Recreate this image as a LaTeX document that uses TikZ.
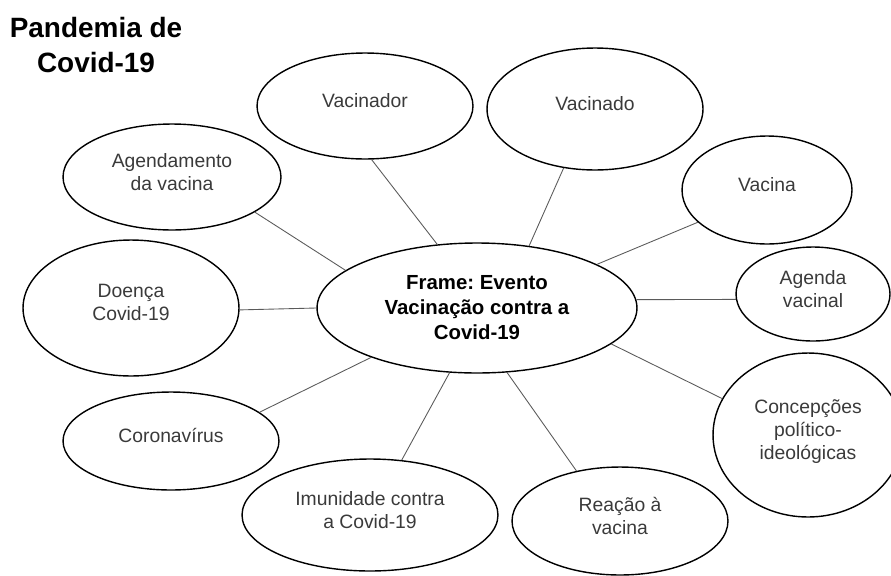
\documentclass[tikz,border=0pt]{standalone}
\usepackage{fontspec}
\setmainfont{Liberation Sans}
\usetikzlibrary{shapes.geometric}
\definecolor{textgray}{HTML}{3A3A3A}
\definecolor{spokegray}{HTML}{5A5A5A}
\frenchspacing
\begin{document}
\begin{tikzpicture}[x=0.02cm, y=-0.02cm,
    topic/.style={draw, ellipse, line width=0.8pt, inner sep=0pt, align=center,
        text=textgray, font=\fontsize{11}{13.1}\selectfont, text depth=6pt},
    eventbox/.style={draw, ellipse, line width=0.8pt, inner sep=0pt, align=center,
        font=\bfseries\fontsize{11.6}{14.2}\selectfont},
    spoke/.style={draw=spokegray, line width=0.5pt}]
    \useasboundingbox (0, 0) rectangle (891, 575);

    \node[font=\bfseries\fontsize{15.9}{19.4}\selectfont, align=center] (title) at (96, 45) {Pandemia de\\Covid-19};

    \node[eventbox, minimum width=6.4cm, minimum height=2.6cm] (E) at (477, 308) {Frame: Evento\\Vacinação contra a\\Covid-19};

    \node[topic, minimum width=4.36cm, minimum height=2.12cm] (agendamento) at (172, 177) {Agendamento\\da vacina};
    \node[topic, minimum width=4.32cm, minimum height=2.12cm] (vacinador) at (365, 106) {Vacinador};
    \node[topic, minimum width=4.32cm, minimum height=2.44cm] (vacinado) at (595, 109) {Vacinado};
    \node[topic, minimum width=3.4cm, minimum height=2.16cm] (vacina) at (767, 190) {Vacina};
    \node[topic, minimum width=3.08cm, minimum height=1.88cm] (agenda) at (813, 294) {Agenda\\vacinal};
    \node[topic, minimum width=3.8cm, minimum height=3.28cm] (concepcoes) at (808, 435) {Concepções\\político-\\ideológicas};
    \node[topic, minimum width=4.32cm, minimum height=2.16cm] (reacao) at (620, 521) {Reação à\\vacina};
    \node[topic, minimum width=5.12cm, minimum height=2.24cm] (imunidade) at (370, 515) {Imunidade contra\\a Covid-19};
    \node[topic, minimum width=4.32cm, minimum height=1.96cm] (coronavirus) at (171, 441) {Coronavírus};
    \node[topic, minimum width=4.32cm, minimum height=2.72cm] (doenca) at (131, 308) {Doença\\Covid-19};

    \draw[spoke] (E.164) -- (agendamento.-23);
    \draw[spoke] (E.122) -- (vacinador.-83);
    \draw[spoke] (E.50) -- (vacinado.-118);
    \draw[spoke] (E.20) -- (vacina.-155);
    \draw[spoke] (E.3) -- (agenda.-176);
    \draw[spoke] (E.-15) -- (concepcoes.157);
    \draw[spoke] (E.-65) -- (reacao.131);
    \draw[spoke] (E.-113) -- (imunidade.60);
    \draw[spoke] (E.-155) -- (coronavirus.18);
    \draw[spoke] (E.180) -- (doenca.-1);
\end{tikzpicture}
\end{document}
